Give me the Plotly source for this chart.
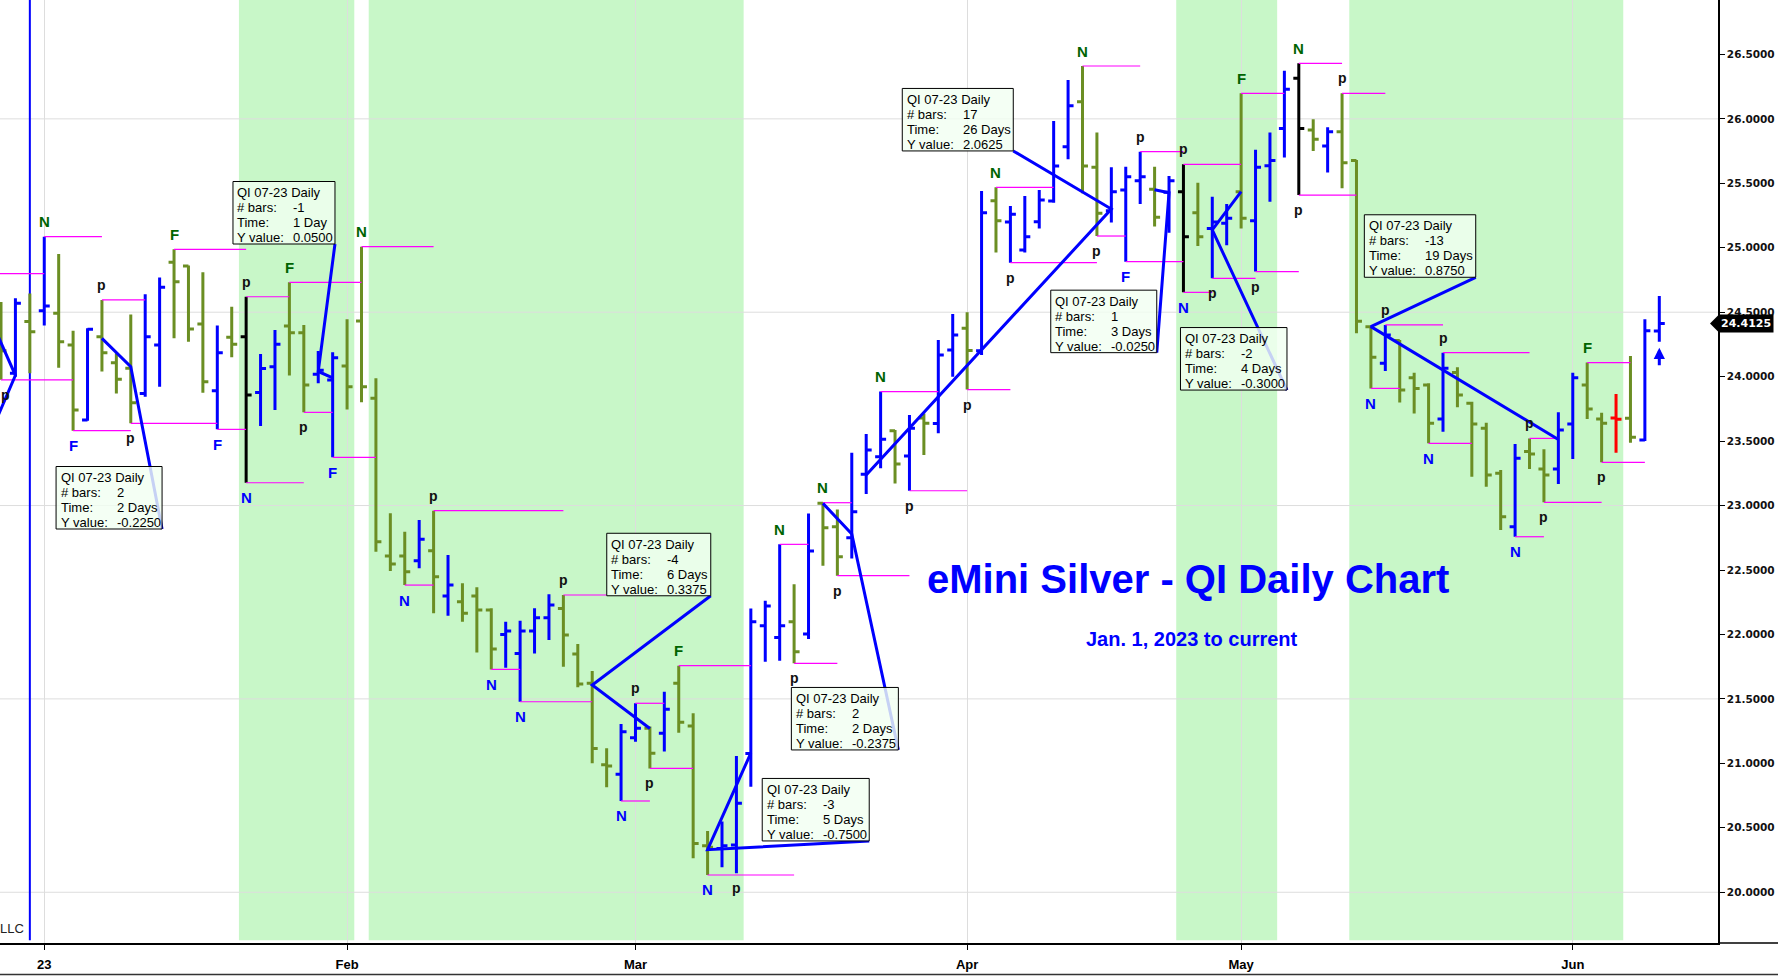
import pandas as pd
import plotly.graph_objects as go

# ---------------- data ----------------
holidays = ["2023-01-02", "2023-04-07"]
dates = [d.strftime("%Y-%m-%d") for d in pd.bdate_range("2022-12-28", "2023-06-09")
         if d.strftime("%Y-%m-%d") not in holidays]

opens = [
    24.45, 24.026, 24.427, 24.512, 24.491, 24.245, 23.664, 24.31, 24.108, 24.065,
    23.87, 24.245, 24.887, 24.858, 24.408, 23.891, 24.305, 24.31, 23.878, 24.077,
    24.393, 24.341, 24.018, 23.974, 24.083, 24.432, 23.832, 22.609, 22.609, 22.572,
    22.65, 22.298, 22.254, 22.298, 22.19, 22.0, 21.853, 22.027, 22.13, 22.202,
    21.848, 21.621, 20.99, 20.915, 21.199, 21.272, 21.233, 21.621, 21.29, 20.36,
    20.34, 20.366, 21.077, 22.068, 21.977, 22.099, 22.003, 23.017, 22.836, 22.751,
    23.242, 23.379, 23.58, 23.384, 23.68, 23.637, 24.207, 24.375, 24.2, 25.365,
    25.2, 24.982, 25.202, 25.363, 25.784, 26.133, 25.624, 25.288, 25.448, 25.52,
    25.453, 25.43, 25.435, 25.272, 25.15, 25.19, 25.435, 25.21, 25.637, 25.926,
    26.315, 25.914, 25.79, 25.9, 25.676, 24.388, 24.103, 24.28, 23.992, 23.935,
    23.672, 24.033, 23.793, 23.599, 23.25, 22.836, 23.42, 23.284, 23.284, 23.633,
    23.935, 23.671, 23.68, 23.677, 23.508, 24.354]
highs = [
    24.58, 24.608, 24.646, 25.086, 24.952, 24.357, 24.375, 24.595, 24.181, 24.483,
    24.639, 24.77, 24.988, 24.863, 24.809, 24.396, 24.543, 24.62, 24.176, 24.362,
    24.732, 24.401, 24.199, 24.189, 24.445, 25.008, 23.987, 22.94, 22.797, 22.888,
    22.96, 22.616, 22.397, 22.366, 22.203, 22.099, 22.107, 22.203, 22.311, 22.306,
    21.926, 21.716, 21.117, 21.305, 21.466, 21.285, 21.556, 21.758, 21.388, 20.475,
    20.548, 21.057, 22.202, 22.262, 22.699, 22.389, 22.939, 23.022, 22.97, 23.41,
    23.555, 23.884, 23.586, 23.702, 23.715, 24.284, 24.486, 24.499, 25.44, 25.469,
    25.324, 25.401, 25.448, 25.983, 26.301, 26.41, 25.895, 25.624, 25.629, 25.745,
    25.629, 25.557, 25.647, 25.505, 25.396, 25.339, 26.198, 25.76, 25.895, 26.374,
    26.431, 25.996, 25.934, 26.198, 25.68, 24.388, 24.401, 24.284, 24.031, 23.948,
    24.186, 24.072, 23.806, 23.643, 23.276, 23.477, 23.521, 23.436, 23.723, 24.031,
    24.109, 23.72, 23.865, 24.16, 24.445, 24.626]
lows = [
    23.975, 24.0, 24.026, 24.396, 24.07, 23.581, 23.658, 24.039, 23.87, 23.638,
    23.845, 23.922, 24.297, 24.271, 23.876, 23.591, 24.15, 23.177, 23.617, 23.741,
    24.008, 23.723, 23.948, 23.374, 23.746, 23.801, 22.642, 22.492, 22.383, 22.513,
    22.164, 22.146, 22.099, 21.859, 21.729, 21.742, 21.478, 21.853, 21.957, 21.75,
    21.59, 21.0, 20.814, 20.708, 21.168, 20.961, 21.091, 21.238, 20.263, 20.134,
    20.193, 20.147, 20.819, 21.789, 21.796, 21.776, 21.965, 22.533, 22.456, 22.59,
    23.09, 23.289, 23.172, 23.115, 23.392, 23.56, 24.0, 23.9, 24.168, 24.964,
    24.884, 24.964, 25.15, 25.35, 25.686, 25.422, 25.091, 25.195, 24.892, 25.339,
    25.164, 25.117, 24.654, 25.013, 24.763, 25.02, 25.15, 24.815, 25.357, 25.7,
    25.409, 25.75, 25.583, 25.461, 24.336, 23.909, 24.044, 23.8, 23.715, 23.483,
    23.573, 23.762, 23.224, 23.146, 22.81, 22.758, 23.284, 23.025, 23.167, 23.361,
    23.671, 23.335, 23.41, 23.488, 23.501, 24.271]
closes = [
    24.2, 24.569, 24.349, 24.548, 24.271, 23.741, 24.367, 24.186, 23.979, 23.798,
    24.31, 24.693, 24.737, 24.37, 23.961, 24.186, 24.251, 23.858, 24.064, 24.251,
    24.341, 23.935, 24.05, 24.147, 23.922, 23.922, 22.72, 22.546, 22.487, 22.738,
    22.448, 22.384, 22.164, 22.19, 21.887, 22.027, 22.027, 22.13, 22.228, 21.996,
    21.615, 21.116, 20.98, 21.246, 21.272, 21.078, 21.419, 21.318, 20.379, 20.35,
    20.36, 20.69, 22.099, 22.22, 22.068, 21.866, 22.647, 22.828, 22.603, 22.952,
    23.431, 23.514, 23.322, 23.599, 23.638, 24.168, 24.323, 24.202, 25.272, 25.21,
    25.26, 25.086, 25.37, 25.634, 26.102, 25.634, 25.267, 25.435, 25.551, 25.55,
    25.236, 25.52, 25.086, 25.086, 25.2, 25.228, 25.228, 25.624, 25.676, 26.229,
    25.926, 25.841, 25.9, 25.66, 24.43, 24.15, 24.323, 23.896, 23.909, 23.638,
    24.065, 23.858, 23.633, 23.237, 22.914, 23.366, 23.40, 23.237, 23.586, 23.992,
    23.749, 23.638, 23.67, 23.529, 24.357, 24.4125]
bar_color_codes = (
    "g b g b g g b g g g "
    "b b g g g b g k b b "
    "g g b b g g g g g b "
    "g b g g g b b b b g "
    "g g g b b g b g g g "
    "b b b b b g b g g b "
    "b b g b g b b g b g "
    "b b b b b g g b b b "
    "g b k g b b g b b b "
    "k g b g g g b g g g "
    "b g g g g b g g b b "
    "g g r g b b").split()

month_ticks = ["2023-01-03", "2023-02-01", "2023-03-01", "2023-04-03", "2023-05-01", "2023-06-01"]
month_labels = ["23", "Feb", "Mar", "Apr", "May", "Jun"]

shaded_periods = [("2023-01-23", "2023-02-01"), ("2023-02-03", "2023-03-10"),
                  ("2023-04-25", "2023-05-03"), ("2023-05-11", "2023-06-06")]

# pivot extension lines: (from bar, to bar, 'H' high / 'L' low)
pivot_lines = [(0, 5, 'L'), (3, 7, 'H'), (5, 9, 'L'), (7, 10, 'H'), (9, 15, 'L'), (12, 17, 'H'),
               (15, 17, 'L'), (17, 20, 'H'), (17, 21, 'L'), (20, 25, 'H'), (21, 23, 'L'),
               (23, 26, 'L'), (25, 30, 'H'), (28, 30, 'L'), (30, 39, 'H'), (34, 36, 'L'),
               (36, 41, 'L'), (39, 42, 'H'), (43, 45, 'L'), (44, 46, 'H'), (45, 48, 'L'),
               (47, 52, 'H'), (49, 55, 'L'), (54, 56, 'H'), (55, 58, 'L'), (57, 59, 'H'),
               (58, 63, 'L'), (61, 65, 'H'), (63, 67, 'L'), (67, 70, 'L'), (69, 73, 'H'),
               (70, 76, 'L'), (75, 79, 'H'), (76, 78, 'L'), (78, 82, 'L'), (79, 82, 'H'),
               (82, 84, 'L'), (82, 86, 'H'), (84, 87, 'L'), (86, 89, 'H'), (87, 90, 'L'),
               (90, 93, 'H'), (90, 94, 'L'), (93, 96, 'H'), (95, 97, 'L'), (96, 100, 'H'),
               (99, 102, 'L'), (100, 106, 'H'), (105, 107, 'L'), (106, 108, 'H'),
               (107, 111, 'L'), (110, 113, 'H'), (111, 114, 'L')]
offscreen_pivot_lines = [(-3, 3, 24.80)]

# bar labels: (bar, text, 'a' above high / 'b' below low)
bar_labels = [(0, 'p', 'b'), (3, 'N', 'a'), (5, 'F', 'b'), (7, 'p', 'a'), (9, 'p', 'b'), (12, 'F', 'a'),
              (15, 'F', 'b'), (17, 'p', 'a'), (17, 'N', 'b'), (20, 'F', 'a'), (21, 'p', 'b'),
              (23, 'F', 'b'), (25, 'N', 'a'), (28, 'N', 'b'), (30, 'p', 'a'), (34, 'N', 'b'),
              (36, 'N', 'b'), (39, 'p', 'a'), (43, 'N', 'b'), (44, 'p', 'a'), (45, 'p', 'b'),
              (47, 'F', 'a'), (49, 'N', 'b'), (51, 'p', 'b'), (54, 'N', 'a'), (55, 'p', 'b'),
              (57, 'N', 'a'), (58, 'p', 'b'), (61, 'N', 'a'), (63, 'p', 'b'), (67, 'p', 'b'),
              (69, 'N', 'a'), (70, 'p', 'b'), (75, 'N', 'a'), (76, 'p', 'b'), (78, 'F', 'b'),
              (79, 'p', 'a'), (82, 'p', 'a'), (82, 'N', 'b'), (84, 'p', 'b'), (86, 'F', 'a'),
              (87, 'p', 'b'), (90, 'N', 'a'), (90, 'p', 'b'), (93, 'p', 'a'), (95, 'N', 'b'),
              (96, 'p', 'a'), (99, 'N', 'b'), (100, 'p', 'a'), (105, 'N', 'b'), (106, 'p', 'a'),
              (107, 'p', 'b'), (110, 'F', 'a'), (111, 'p', 'b')]

# QI measurement boxes: texts and the two measured points (bar, price)
qi_bars = ["2", "-1", "-4", "2", "-3", "17", "1", "-2", "-13"]
qi_time = ["2 Days", "1 Day", "6 Days", "2 Days", "5 Days", "26 Days", "3 Days", "4 Days", "19 Days"]
qi_yval = ["-0.2250", "0.0500", "0.3375", "-0.2375", "-0.7500", "2.0625", "-0.0250", "-0.3000", "0.8750"]
qi_point_a = [(9, 24.077), (22, 24.04), (41, 21.608), (59, 22.78), (49, 20.33), (77, 25.30),
              (81, 25.427), (84, 25.138), (95, 24.388)]
qi_point_b = [(7, 24.297), (23, 23.99), (45, 21.27), (57, 23.017), (52, 21.08), (60, 23.237),
              (80, 25.45), (86, 25.435), (108, 23.513)]
offscreen_qi_line = [(-3, 25.02), (1, 24.01), (-3, 22.97)]

# ---------------- layout (positions / sizes) ----------------
qi_box_corner = [(11.17, 22.818), (23.16, 25.029), (49.22, 22.30), (62.23, 21.104), (60.21, 20.398),
                 (70.2, 25.751), (80.15, 24.186), (89.18, 23.896), (102.27, 24.771)]
qi_box_width = [106, 102, 104, 107, 107, 111, 106, 106.5, 111.4]
BOX_H = 62.5
LINE_CENTERS = [11, 26, 41, 56]
LABEL_X, VALUE_X = 3.5, 59.5

W, H = 1778, 977
PLOT_W, PLOT_H = 1718, 943
BLUE = "#0000FF"
OLIVE = "#6B8E23"
DKGREEN = "#006400"
MAGENTA = "#FF00FF"
ARIAL = "Liberation Sans, Arial, sans-serif"
NARROW = "Liberation Sans Narrow, Arial Narrow, sans-serif"

x = list(range(len(dates)))
tickvals = [dates.index(d) for d in month_ticks]

fig = go.Figure()

# pivot extension lines (magenta)
mx, my = [], []
for s, e, kind in pivot_lines:
    p = highs[s] if kind == 'H' else lows[s]
    mx += [s, e, None]
    my += [p, p, None]
for s, e, p in offscreen_pivot_lines:
    mx += [s, e, None]
    my += [p, p, None]
fig.add_trace(go.Scatter(x=mx, y=my, mode="lines", line=dict(color=MAGENTA, width=1.2),
                         hoverinfo="skip", showlegend=False))

# OHLC bars grouped by colour
bar_colors = {"b": BLUE, "g": OLIVE, "k": "#000000", "r": "#FF0000"}
for key, col in bar_colors.items():
    ids = [i for i, c in enumerate(bar_color_codes) if c == key]
    fig.add_trace(go.Ohlc(
        x=[x[i] for i in ids], open=[opens[i] for i in ids], high=[highs[i] for i in ids],
        low=[lows[i] for i in ids], close=[closes[i] for i in ids],
        increasing=dict(line=dict(color=col, width=3)),
        decreasing=dict(line=dict(color=col, width=3)),
        tickwidth=0.38, hoverinfo="skip", showlegend=False))

# QI connector lines
lx, ly = [], []
for corner, a, b in zip(qi_box_corner, qi_point_a, qi_point_b):
    lx += [corner[0], a[0], b[0], None]
    ly += [corner[1], a[1], b[1], None]
for px_, py_ in offscreen_qi_line:
    lx.append(px_)
    ly.append(py_)
fig.add_trace(go.Scatter(x=lx, y=ly, mode="lines", line=dict(color=BLUE, width=3),
                         hoverinfo="skip", showlegend=False))

annotations = []
shapes = []
for corner, w, nbars, t, yv in zip(qi_box_corner, qi_box_width, qi_bars, qi_time, qi_yval):
    shapes.append(dict(type="rect", xref="x", yref="y", xsizemode="pixel", ysizemode="pixel",
                       xanchor=corner[0], yanchor=corner[1], x0=-w, x1=0, y0=0, y1=BOX_H,
                       fillcolor="rgba(242,255,242,0.82)", line=dict(color="#000000", width=1),
                       layer="above"))
    labels = ["QI 07-23 Daily", "# bars:", "Time:", "Y value:"]
    values = [None, nbars, t, yv]
    for lab, val, c in zip(labels, values, LINE_CENTERS):
        annotations.append(dict(x=corner[0], y=corner[1], xref="x", yref="y", text=lab,
                                showarrow=False, xanchor="left", yanchor="middle",
                                xshift=-w + LABEL_X, yshift=BOX_H - c, borderpad=0,
                                font=dict(family=ARIAL, size=13, color="#000000")))
        if val is not None:
            annotations.append(dict(x=corner[0], y=corner[1], xref="x", yref="y", text=val,
                                    showarrow=False, xanchor="left", yanchor="middle",
                                    xshift=-w + VALUE_X, yshift=BOX_H - c, borderpad=0,
                                    font=dict(family=ARIAL, size=13, color="#000000")))

for i, t, pos in bar_labels:
    if t == 'p':
        col, size = "#111111", 14
    else:
        col, size = (DKGREEN if pos == 'a' else BLUE), 15
    edge = (i == 0)  # keep the first label inside the plot edge
    annotations.append(dict(x=i, y=highs[i] if pos == 'a' else lows[i], xref="x", yref="y",
                            text="<b>%s</b>" % t, showarrow=False, yanchor="middle",
                            xanchor="left" if edge else "center", xshift=-1 if edge else 0,
                            borderpad=0 if edge else 1,
                            yshift=15 if pos == 'a' else -15,
                            font=dict(family=ARIAL, size=size, color=col)))

# up arrow under last bar
last = len(dates) - 1
annotations.append(dict(x=last, y=lows[last], xref="x", yref="y", text="", showarrow=True,
                        ax=0, ay=25, arrowhead=2, arrowsize=0.75, arrowwidth=3,
                        arrowcolor=BLUE, standoff=6))

# titles
annotations.append(dict(x=1187.5 / PLOT_W, y=1 - 579 / PLOT_H, xref="paper", yref="paper",
                        text="<b>eMini Silver - QI Daily Chart</b>", showarrow=False,
                        xanchor="center", yanchor="middle",
                        font=dict(family=ARIAL, size=40, color=BLUE)))
annotations.append(dict(x=1191.5 / PLOT_W, y=1 - 638.5 / PLOT_H, xref="paper", yref="paper",
                        text="<b>Jan. 1, 2023 to current</b>", showarrow=False,
                        xanchor="center", yanchor="middle",
                        font=dict(family=ARIAL, size=20, color=BLUE)))
# last price tag
annotations.append(dict(x=1, y=closes[last], xref="paper", yref="y", text="<b>%.4f</b>" % closes[last],
                        showarrow=False, xanchor="left", yanchor="middle", xshift=0,
                        bgcolor="#000000", borderpad=2,
                        font=dict(family="DejaVu Sans", size=11, color="#FFFFFF")))
# clipped copyright
annotations.append(dict(x=0, y=1 - 928 / PLOT_H, xref="paper", yref="paper", text="LLC",
                        showarrow=False, xanchor="left", yanchor="middle", xshift=-1, borderpad=0,
                        font=dict(family=NARROW, size=13, color="#222222")))

for s, e in shaded_periods:
    shapes.append(dict(type="rect", xref="x", yref="paper", x0=dates.index(s) - 0.5,
                       x1=dates.index(e) + 0.5, y0=0.003, y1=1, fillcolor="#C8F7C8",
                       line=dict(width=0), layer="below"))
for g in [20.0, 21.5, 23.0, 24.5, 26.0]:
    shapes.append(dict(type="line", xref="paper", yref="y", x0=0, x1=1, y0=g, y1=g,
                       line=dict(color="#DDDDDD", width=1), layer="between"))
# year separator
shapes.append(dict(type="line", xref="x", yref="paper", x0=2, x1=2, y0=0.003, y1=1,
                   line=dict(color=BLUE, width=2), layer="between"))
# price tag arrow
shapes.append(dict(type="path", xref="paper", yref="y", xsizemode="pixel", ysizemode="pixel",
                   xanchor=1, yanchor=closes[last], path="M 0 8 L -8 0 L 0 -8 Z",
                   fillcolor="#000000", line=dict(width=0)))
# bottom axis line extension & window edge
shapes.append(dict(type="line", xref="paper", yref="paper", x0=1, x1=W / PLOT_W, y0=0, y1=0,
                   line=dict(color="#000000", width=1.5)))
shapes.append(dict(type="line", xref="paper", yref="paper", x0=0, x1=W / PLOT_W,
                   y0=-(974.5 - PLOT_H) / PLOT_H, y1=-(974.5 - PLOT_H) / PLOT_H,
                   line=dict(color="#333333", width=1.5)))

fig.update_layout(
    width=W, height=H, margin=dict(l=0, r=W - PLOT_W, t=0, b=H - PLOT_H),
    paper_bgcolor="#FFFFFF", plot_bgcolor="#FFFFFF", showlegend=False,
    annotations=annotations, shapes=shapes, hovermode=False,
    xaxis=dict(range=[-1 / 14.42, (PLOT_W - 1) / 14.42], tickmode="array", tickvals=tickvals,
               ticktext=month_labels, showgrid=True, gridcolor="#DDDDDD", gridwidth=1,
               zeroline=False, showline=True, linecolor="#000000", linewidth=1.5,
               ticks="outside", ticklen=5, tickcolor="#000000", rangeslider=dict(visible=False),
               tickfont=dict(family=NARROW, size=13, color="#000000", weight="bold"),
               ticklabelstandoff=4),
    yaxis=dict(side="right", range=[26.5 - (PLOT_H - 54.4) / 128.9, 26.5 + 54.4 / 128.9],
               tickmode="array", tickvals=[20 + 0.5 * k for k in range(14)],
               tickformat=".4f", showgrid=False, zeroline=False, showline=True,
               linecolor="#000000", linewidth=1.5, ticks="outside", ticklen=5,
               tickcolor="#000000",
               tickfont=dict(family="DejaVu Sans", size=10.5, color="#111111", weight="bold")),
)

fig.write_html("out.html", config={"displayModeBar": False},
               post_script="document.body.style.margin='0';document.body.style.overflow='hidden';")
